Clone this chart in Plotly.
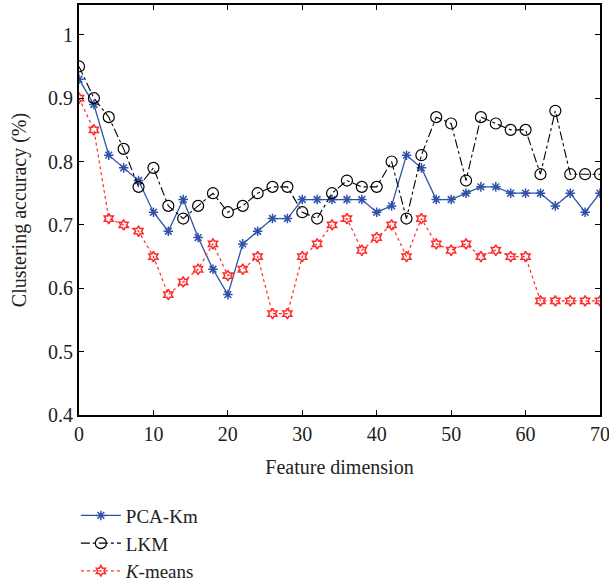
import plotly.graph_objects as go

dims = list(range(0, 72, 2))
pca_km = [0.93, 0.89, 0.81, 0.79, 0.77, 0.72, 0.69, 0.74, 0.68, 0.63, 0.59, 0.67, 0.69, 0.71, 0.71, 0.74,
          0.74, 0.74, 0.74, 0.74, 0.72, 0.73, 0.81, 0.79, 0.74, 0.74, 0.75, 0.76, 0.76, 0.75, 0.75, 0.75,
          0.73, 0.75, 0.72, 0.75]
lkm = [0.95, 0.90, 0.87, 0.82, 0.76, 0.79, 0.73, 0.71, 0.73, 0.75, 0.72, 0.73, 0.75, 0.76, 0.76, 0.72,
       0.71, 0.75, 0.77, 0.76, 0.76, 0.80, 0.71, 0.81, 0.87, 0.86, 0.77, 0.87, 0.86, 0.85, 0.85, 0.78,
       0.88, 0.78, 0.78, 0.78]
kmeans = [0.90, 0.85, 0.71, 0.70, 0.69, 0.65, 0.59, 0.61, 0.63, 0.67, 0.62, 0.63, 0.65, 0.56, 0.56, 0.65,
          0.67, 0.70, 0.71, 0.66, 0.68, 0.70, 0.65, 0.71, 0.67, 0.66, 0.67, 0.65, 0.66, 0.65, 0.65, 0.58,
          0.58, 0.58, 0.58, 0.58]
names = ["PCA-Km", "LKM", "<i>K</i>-means"]
x_ticks = [0, 10, 20, 30, 40, 50, 60, 70]
y_ticks = [0.4, 0.5, 0.6, 0.7, 0.8, 0.9, 1.0]
y_tick_text = ["0.4", "0.5", "0.6", "0.7", "0.8", "0.9", "1"]

FONT = "Liberation Serif, DejaVu Serif, serif"
TXT = "#222"

fig = go.Figure()
fig.add_trace(go.Scatter(x=dims, y=pca_km, name=names[0], mode="lines+markers",
                         line=dict(color="#2f52a8", width=1.3),
                         marker=dict(symbol="asterisk-open", size=8,
                                     line=dict(color="#2f52a8", width=1.5))))
fig.add_trace(go.Scatter(x=dims, y=lkm, name=names[1], mode="lines+markers",
                         line=dict(color="black", width=1.1, dash="dashdot"),
                         marker=dict(symbol="circle-open", size=11,
                                     line=dict(color="black", width=1.2))))
fig.add_trace(go.Scatter(x=dims, y=kmeans, name=names[2], mode="lines+markers",
                         line=dict(color="#ff2a2a", width=1.2, dash="dot"),
                         marker=dict(symbol="hexagram-open", size=8,
                                     line=dict(color="#ff2a2a", width=1.5))))

axis_common = dict(showline=True, linecolor="black", linewidth=2, mirror="ticks",
                   ticks="inside", ticklen=5, tickwidth=1, tickcolor="black",
                   showgrid=False, zeroline=False, automargin=False,
                   ticklabeloverflow="allow",
                   tickfont=dict(family=FONT, size=20, color=TXT))

fig.update_xaxes(range=[0, 70], tickvals=x_ticks,
                 title=dict(text="Feature dimension", font=dict(family=FONT, size=20, color=TXT), standoff=16),
                 **axis_common)
fig.update_yaxes(range=[0.4, 1.047], tickvals=y_ticks, ticktext=y_tick_text,
                 title=dict(text="Clustering accuracy (%)", font=dict(family=FONT, size=20, color=TXT), standoff=16),
                 **axis_common)

fig.update_layout(
    width=609, height=586,
    margin=dict(l=79, r=9, t=5, b=171, autoexpand=False),
    plot_bgcolor="white", paper_bgcolor="white",
    font=dict(family=FONT, size=20, color=TXT),
    legend=dict(x=-0.006, xanchor="left", y=-0.199, yanchor="top",
                bgcolor="rgba(0,0,0,0)", font=dict(family=FONT, size=19, color=TXT),
                tracegroupgap=0, itemwidth=40),
)

fig.write_html("out.html", config={"displayModeBar": False},
               post_script="document.body.style.margin='0';document.body.style.padding='0';")
